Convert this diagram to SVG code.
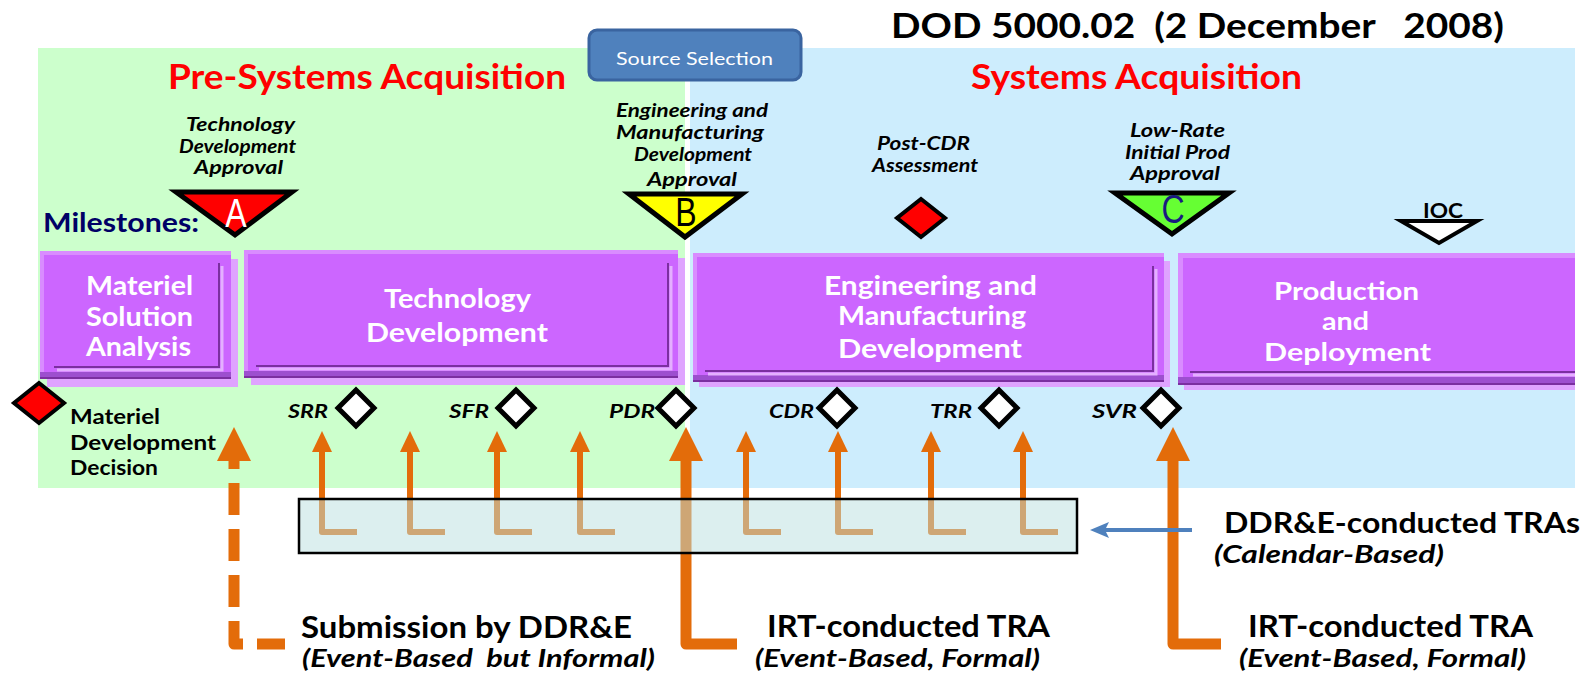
<svg xmlns="http://www.w3.org/2000/svg" width="1583" height="681" viewBox="0 0 1583 681">
<defs>
<style>
text{font-family:Lato,"Liberation Sans",sans-serif;fill:#000;}
.hd{fill:#ff0000;font-weight:bold;font-size:34px;}
.ms{font-style:italic;font-weight:bold;font-size:18px;}
.bx{fill:#fff;font-size:27px;font-weight:bold;}
.bxs{fill:#fff;font-size:25px;font-weight:bold;}
.rv{font-style:italic;font-weight:bold;font-size:19px;}
.md{font-weight:bold;font-size:21px;}
.big{font-weight:bold;font-size:30px;}
.sub{font-style:italic;font-weight:bold;font-size:24px;}
.ltr{font-family:"Liberation Sans",sans-serif;font-size:40px;text-anchor:middle;}
.face{fill:#cc66ff;}
.shadow{fill:#dfa3ff;}
.edge{fill:#d98cff;}
.band{fill:#9d4fcf;}
.bline{fill:#7b2fa0;}
.inner{fill:none;stroke:#7b2fa0;stroke-width:2;}
.innerl{fill:none;stroke:#e4b0ff;stroke-width:3;}
.or{fill:#e36c0a;}
.thin{fill:none;stroke:#e36c0a;stroke-width:6;stroke-linejoin:round;}
.thick{fill:none;stroke:#e36c0a;stroke-width:11;stroke-linejoin:round;}
.rev{fill:#fff;stroke:#000;stroke-width:5;}
.tri{stroke:#000;stroke-width:5;stroke-linejoin:miter;}
</style>
</defs>

<g id="backgrounds">
<rect x="38" y="48" width="647" height="440" fill="#ccffcc"/>
<rect x="690" y="48" width="885" height="440" fill="#cdedfd"/>
</g>

<g id="title">
<text x="891" y="38" font-size="35" font-weight="bold" textLength="613" lengthAdjust="spacingAndGlyphs" xml:space="preserve">DOD 5000.02  (2 December   2008)</text>
</g>

<g id="pre-systems">
<text class="hd" x="168" y="89" textLength="398" lengthAdjust="spacingAndGlyphs">Pre-Systems Acquisition</text>
</g>
<g id="systems">
<text class="hd" x="971" y="89" textLength="331" lengthAdjust="spacingAndGlyphs">Systems Acquisition</text>
</g>

<g id="source-selection">
<rect x="589" y="30" width="212" height="50" rx="8" fill="#4f81bd" stroke="#3a64a0" stroke-width="3"/>
<text x="616" y="65" font-size="17" style="fill:#fff" textLength="157" lengthAdjust="spacingAndGlyphs">Source Selection</text>
</g>

<g id="milestones-label">
<text x="43" y="232" font-size="27" font-weight="bold" style="fill:#000066" textLength="156" lengthAdjust="spacingAndGlyphs">Milestones:</text>
</g>

<g id="milestone-a">
<text class="ms" x="186" y="131" textLength="109" lengthAdjust="spacingAndGlyphs">Technology</text>
<text class="ms" x="179" y="153" textLength="117" lengthAdjust="spacingAndGlyphs">Development</text>
<text class="ms" x="194" y="174" textLength="89" lengthAdjust="spacingAndGlyphs">Approval</text>
<polygon class="tri" points="176,192 292,192 235,235" fill="#ff0000"/>
<text class="ltr" transform="translate(236,227) scale(0.8,1)" style="fill:#fff">A</text>
</g>

<g id="milestone-b">
<text class="ms" x="616" y="117" textLength="152" lengthAdjust="spacingAndGlyphs">Engineering and</text>
<text class="ms" x="616" y="139" textLength="148" lengthAdjust="spacingAndGlyphs">Manufacturing</text>
<text class="ms" x="634" y="161" textLength="118" lengthAdjust="spacingAndGlyphs">Development</text>
<text class="ms" x="647" y="186" textLength="90" lengthAdjust="spacingAndGlyphs">Approval</text>
<polygon class="tri" points="629,194 742,194 685,237" fill="#ffff00"/>
<text class="ltr" transform="translate(686,226) scale(0.8,1)">B</text>
</g>

<g id="post-cdr">
<text class="ms" x="877" y="150" textLength="93" lengthAdjust="spacingAndGlyphs">Post-CDR</text>
<text class="ms" x="872" y="172" textLength="106" lengthAdjust="spacingAndGlyphs">Assessment</text>
<polygon points="921,199 945,218 921,237 897,218" fill="#ff0000" stroke="#000" stroke-width="4"/>
</g>

<g id="milestone-c">
<text class="ms" x="1130" y="137" textLength="95" lengthAdjust="spacingAndGlyphs">Low-Rate</text>
<text class="ms" x="1125" y="159" textLength="105" lengthAdjust="spacingAndGlyphs">Initial Prod</text>
<text class="ms" x="1130" y="180" textLength="90" lengthAdjust="spacingAndGlyphs">Approval</text>
<polygon class="tri" points="1115,193 1229,193 1172,234" fill="#66ff33"/>
<text class="ltr" transform="translate(1173,223) scale(0.8,1)" style="fill:#1a1a80">C</text>
</g>

<g id="ioc">
<text x="1423" y="218" font-size="21" font-weight="bold" textLength="40" lengthAdjust="spacingAndGlyphs">IOC</text>
<polygon points="1401,221 1477,221 1439,243" fill="#fff" stroke="#000" stroke-width="4"/>
</g>

<g id="phase-msa">
<rect class="shadow" x="47" y="259" width="191" height="128"/>
<rect class="face" x="40" y="251" width="191" height="128"/>
<rect class="edge" x="40" y="251" width="191" height="4"/>
<rect class="edge" x="40" y="251" width="4" height="128"/>
<rect class="band" x="40" y="372" width="191" height="7"/>
<rect class="bline" x="40" y="377" width="191" height="2"/>
<polyline class="innerl" points="57,370 222,370 222,266"/>
<polyline class="inner" points="54,367 219,367 219,263"/>
<text class="bx" x="86" y="295" textLength="107" lengthAdjust="spacingAndGlyphs">Materiel</text>
<text class="bx" x="86" y="326" textLength="107" lengthAdjust="spacingAndGlyphs">Solution</text>
<text class="bx" x="86" y="356" textLength="105" lengthAdjust="spacingAndGlyphs">Analysis</text>
</g>

<g id="phase-td">
<rect class="shadow" x="251" y="258" width="434" height="127"/>
<rect class="face" x="244" y="250" width="434" height="128"/>
<rect class="edge" x="244" y="250" width="434" height="4"/>
<rect class="edge" x="244" y="250" width="4" height="128"/>
<rect class="band" x="244" y="371" width="434" height="7"/>
<rect class="bline" x="244" y="376" width="434" height="2"/>
<polyline class="innerl" points="259,369 671,369 671,266"/>
<polyline class="inner" points="256,366 668,366 668,263"/>
<text class="bx" x="384" y="308" textLength="147" lengthAdjust="spacingAndGlyphs">Technology</text>
<text class="bx" x="366" y="342" textLength="182" lengthAdjust="spacingAndGlyphs">Development</text>
</g>

<g id="phase-emd">
<rect class="shadow" x="699" y="261" width="471" height="126"/>
<rect class="face" x="693" y="253" width="471" height="129"/>
<rect class="edge" x="693" y="253" width="471" height="4"/>
<rect class="edge" x="693" y="253" width="4" height="129"/>
<rect class="band" x="693" y="375" width="471" height="7"/>
<rect class="bline" x="693" y="380" width="471" height="2"/>
<polyline class="innerl" points="708,374 1156,374 1156,269"/>
<polyline class="inner" points="705,371 1153,371 1153,266"/>
<text class="bx" x="824" y="295" textLength="213" lengthAdjust="spacingAndGlyphs">Engineering and</text>
<text class="bx" x="838" y="325" textLength="188" lengthAdjust="spacingAndGlyphs">Manufacturing</text>
<text class="bx" x="838" y="358" textLength="184" lengthAdjust="spacingAndGlyphs">Development</text>
</g>

<g id="phase-pd">
<rect class="shadow" x="1184" y="261" width="391" height="129"/>
<rect class="face" x="1178" y="253" width="397" height="132"/>
<rect class="edge" x="1178" y="253" width="397" height="5"/>
<rect class="edge" x="1178" y="253" width="5" height="132"/>
<rect class="band" x="1178" y="377" width="397" height="8"/>
<rect class="bline" x="1178" y="383" width="397" height="2"/>
<polyline class="innerl" points="1193,375 1575,375"/>
<polyline class="inner" points="1190,372 1575,372"/>
<text class="bxs" x="1274" y="300" textLength="145" lengthAdjust="spacingAndGlyphs">Production</text>
<text class="bxs" x="1322" y="330" textLength="47" lengthAdjust="spacingAndGlyphs">and</text>
<text class="bxs" x="1264" y="361" textLength="167" lengthAdjust="spacingAndGlyphs">Deployment</text>
</g>

<g id="mdd">
<polygon points="39,383 64,403 39,423 14,403" fill="#ff0000" stroke="#000" stroke-width="4"/>
<text class="md" x="70" y="424" textLength="90" lengthAdjust="spacingAndGlyphs">Materiel</text>
<text class="md" x="70" y="450" textLength="146" lengthAdjust="spacingAndGlyphs">Development</text>
<text class="md" x="70" y="475" textLength="88" lengthAdjust="spacingAndGlyphs">Decision</text>
</g>

<g id="reviews">
<g id="srr"><text class="rv" x="288" y="418" textLength="40" lengthAdjust="spacingAndGlyphs">SRR</text><polygon class="rev" points="356,390 374,408 356,426 338,408"/></g>
<g id="sfr"><text class="rv" x="449" y="418" textLength="40" lengthAdjust="spacingAndGlyphs">SFR</text><polygon class="rev" points="516,390 534,408 516,426 498,408"/></g>
<g id="pdr"><text class="rv" x="609" y="418" textLength="46" lengthAdjust="spacingAndGlyphs">PDR</text><polygon class="rev" points="676,390 694,408 676,426 658,408"/></g>
<g id="cdr"><text class="rv" x="769" y="418" textLength="45" lengthAdjust="spacingAndGlyphs">CDR</text><polygon class="rev" points="837,390 855,408 837,426 819,408"/></g>
<g id="trr"><text class="rv" x="930" y="418" textLength="42" lengthAdjust="spacingAndGlyphs">TRR</text><polygon class="rev" points="999,390 1017,408 999,426 981,408"/></g>
<g id="svr"><text class="rv" x="1092" y="418" textLength="45" lengthAdjust="spacingAndGlyphs">SVR</text><polygon class="rev" points="1161,390 1179,408 1161,426 1143,408"/></g>
</g>

<g id="connectors">
<path class="thin" d="M322 450V532H357"/><polygon class="or" points="322,431 332,452 312,452"/>
<path class="thin" d="M410 450V532H445"/><polygon class="or" points="410,431 420,452 400,452"/>
<path class="thin" d="M497 450V532H532"/><polygon class="or" points="497,431 507,452 487,452"/>
<path class="thin" d="M580 450V532H615"/><polygon class="or" points="580,431 590,452 570,452"/>
<path class="thin" d="M746 450V532H781"/><polygon class="or" points="746,431 756,452 736,452"/>
<path class="thin" d="M838 450V532H873"/><polygon class="or" points="838,431 848,452 828,452"/>
<path class="thin" d="M931 450V532H966"/><polygon class="or" points="931,431 941,452 921,452"/>
<path class="thin" d="M1023 450V532H1058"/><polygon class="or" points="1023,431 1033,452 1013,452"/>

<path class="thick" d="M234 458V644H285" stroke-dasharray="32 14" stroke-dashoffset="21"/>
<polygon class="or" points="234,427 251,461 217,461"/>
<path class="thick" d="M686 458V644H737"/>
<polygon class="or" points="686,427 703,461 669,461"/>
<path class="thick" d="M1173 458V644H1221"/>
<polygon class="or" points="1173,427 1190,461 1156,461"/>

<rect id="tra-box" x="299" y="499" width="778" height="54" fill="#b9dfdf" fill-opacity="0.5" stroke="#000" stroke-width="2.5"/>

<line x1="1192" y1="530" x2="1104" y2="530" stroke="#4f81bd" stroke-width="4"/>
<polygon points="1090,530 1109,522 1105,530 1109,538" fill="#4f81bd"/>
</g>

<g id="label-ddre-tras">
<text x="1224" y="533" font-size="28" font-weight="bold" textLength="356" lengthAdjust="spacingAndGlyphs">DDR&amp;E-conducted TRAs</text>
<text class="sub" x="1214" y="563" font-size="23" textLength="230" lengthAdjust="spacingAndGlyphs">(Calendar-Based)</text>
</g>
<g id="label-submission">
<text class="big" x="301" y="638" textLength="331" lengthAdjust="spacingAndGlyphs">Submission by DDR&amp;E</text>
<text class="sub" x="302" y="667" textLength="353" lengthAdjust="spacingAndGlyphs" xml:space="preserve">(Event-Based  but Informal)</text>
</g>
<g id="label-irt-1">
<text class="big" x="767" y="637" textLength="283" lengthAdjust="spacingAndGlyphs">IRT-conducted TRA</text>
<text class="sub" x="755" y="667" textLength="285" lengthAdjust="spacingAndGlyphs">(Event-Based, Formal)</text>
</g>
<g id="label-irt-2">
<text class="big" x="1248" y="637" textLength="285" lengthAdjust="spacingAndGlyphs">IRT-conducted TRA</text>
<text class="sub" x="1239" y="667" textLength="287" lengthAdjust="spacingAndGlyphs">(Event-Based, Formal)</text>
</g>
</svg>
